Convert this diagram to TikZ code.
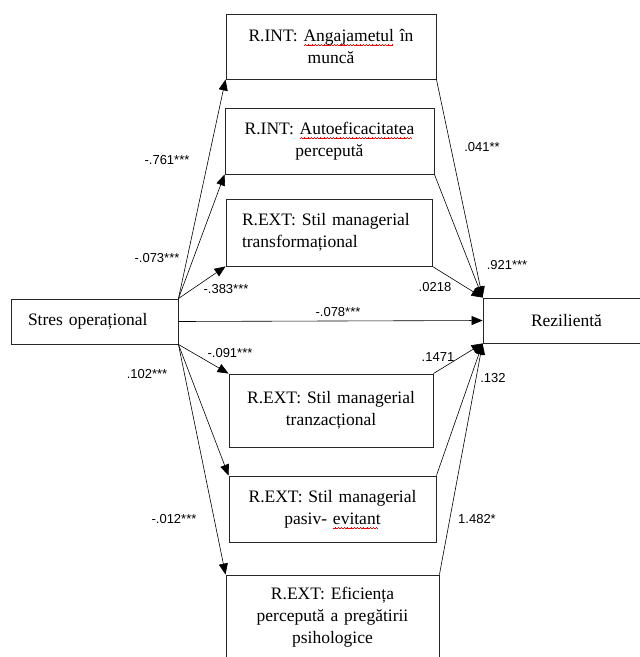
\documentclass[tikz,border=0pt]{standalone}
\usepackage{fontspec}
\setmainfont{Liberation Serif}
\newfontfamily\coeffont{Liberation Sans}
\usetikzlibrary{arrows.meta}
\newsavebox\spellbox
\newcommand\spellmark[1]{\sbox\spellbox{#1}\leavevmode
  \rlap{\raisebox{-4.5pt}[0pt][0pt]{\color{red}\leaders\hbox{%
    \rule[0pt]{0.8pt}{0.6pt}\rule[0.6pt]{0.8pt}{0.6pt}%
    \rule[1.2pt]{0.8pt}{0.6pt}\rule[0.6pt]{0.8pt}{0.6pt}}\hskip\wd\spellbox}}%
  \usebox\spellbox}

\begin{document}
\begin{tikzpicture}[x=1pt,y=-1pt,
  varbox/.style={draw=black!85,line width=0.9pt,inner xsep=8pt,inner ysep=0pt,
    align=center,font=\fontsize{17.5}{22}\selectfont},
  coef/.style={inner sep=0pt,font=\coeffont\fontsize{13}{15}\selectfont},
  link/.style={line width=0.6pt,-{Triangle[length=11pt,width=9pt]}}]
\useasboundingbox (0,0) rectangle (640,657);
% mediators above
\node[varbox,text width=194pt,minimum height=65pt] (angaj) at (331,46.5)
  {R.INT: \spellmark{Angajametul} în\\muncă};
\node[varbox,text width=193pt,minimum height=66pt] (autoef) at (329.5,141)
  {R.INT: \spellmark{Autoeficacitatea}\\percepută};
\node[varbox,text width=174pt,inner xsep=16pt,minimum height=67pt,align=left] (transf) at (329,232.5)
  {R.EXT: Stil managerial\\transformațional};
% predictor and outcome
\node[varbox,text width=133pt,inner xsep=17pt,minimum height=45pt,align=left] (stres) at (94.5,321.5)
  {Stres operațional};
\node[varbox,text width=151pt,minimum height=45pt] (rezil) at (566.5,320.5) {Rezilientă};
% mediators below
\node[varbox,text width=188pt,minimum height=73pt] (tranz) at (331,410.5)
  {R.EXT: Stil managerial\\tranzacțional};
\node[varbox,text width=191pt,minimum height=66pt] (pasiv) at (332.5,509)
  {R.EXT: Stil managerial\\pasiv- \spellmark{evitant}};
\node[varbox,text width=197pt,minimum height=85pt] (efic) at (332.5,617.5)
  {R.EXT: Eficiența\\percepută a pregătirii\\psihologice};
\foreach \m in {angaj,autoef,transf} {
  \draw[link] (stres.north east) -- (\m.south west);
  \draw[link] (\m.south east) -- (rezil.north west);
}
\foreach \m in {tranz,pasiv,efic} {
  \draw[link] (stres.south east) -- (\m.north west);
  \draw[link] (\m.north east) -- (rezil.south west);
}
\draw[link] (stres.east) -- (rezil.west);
\foreach \x/\y/\lab [count=\i] in {167/160/-.761***,157/258/-.073***,226/289/-.383***,
  338/312/-.078***,230/353/-.091***,147/374/.102***,174/519/-.012***,
  482/147/.041**,507/265/.921***,435/287/.0218,438/357/.1471,493/378/.132,477/519/1.482*} {
  \node[coef] (coef\i) at (\x,\y) {\lab};
}
\end{tikzpicture}
\end{document}
